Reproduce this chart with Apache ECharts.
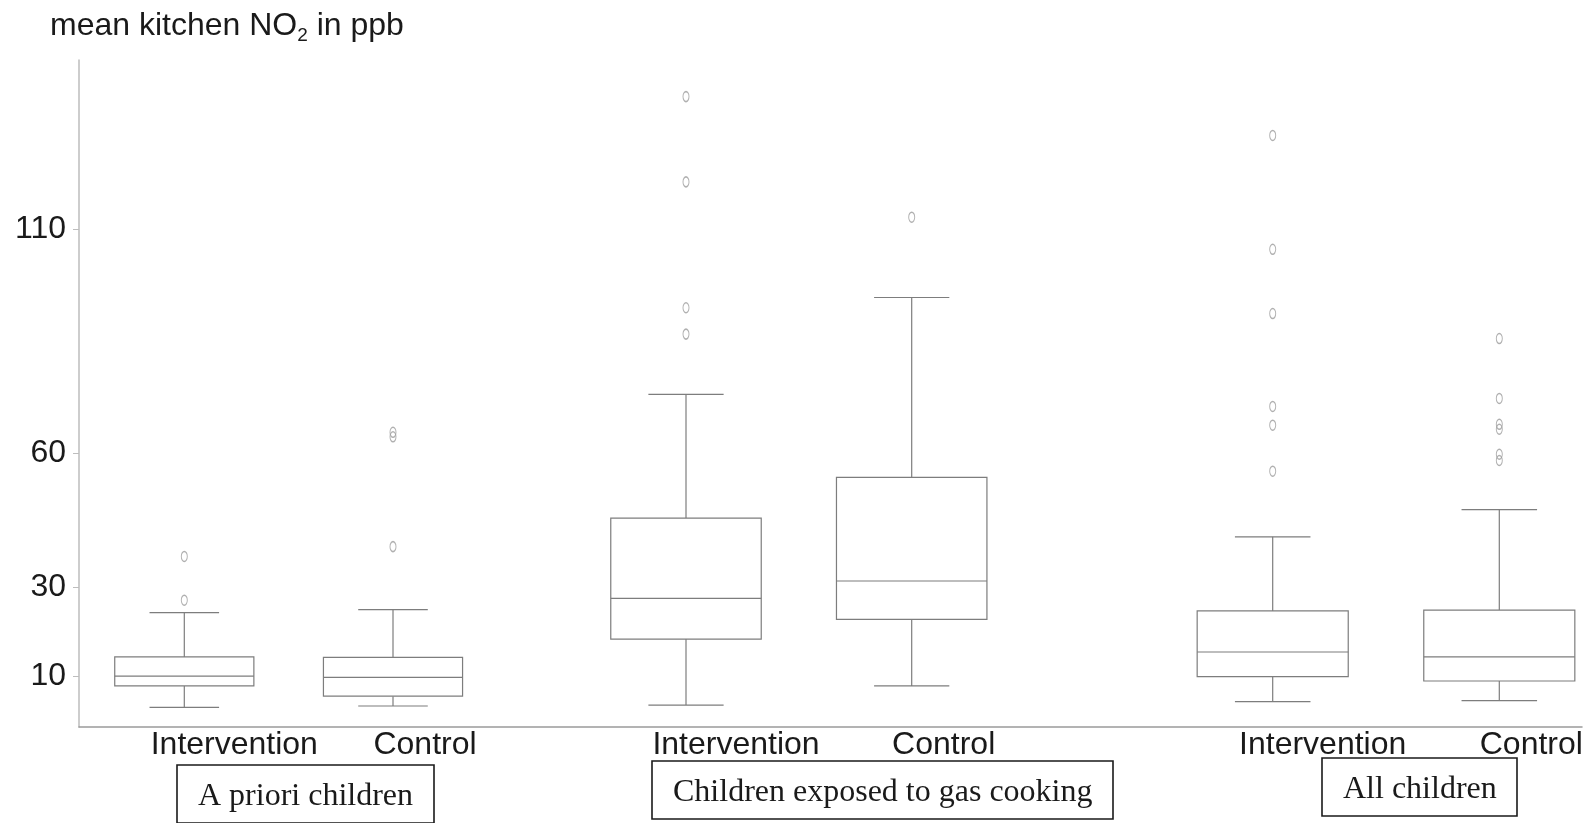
<!DOCTYPE html>
<html>
<head>
<meta charset="utf-8">
<title>mean kitchen NO2 in ppb</title>
<script src="https://cdn.jsdelivr.net/npm/echarts@6/dist/echarts.min.js"></script>
<style>
  html, body { margin: 0; padding: 0; background: #fff; }
  #chart { width: 1587px; height: 823px; }
</style>
</head>
<body>
<div id="chart"></div>
<script>
// Arms within each group
const categories = ['Intervention', 'Control'];
const groupNames = ['A priori children', 'Children exposed to gas cooking', 'All children'];
const yTicks = [10, 30, 60, 110];

// Box statistics per arm: [lower whisker, Q1, median, Q3, upper whisker]
const aprioriBoxes = [[3.0, 7.8, 10.0, 14.3, 24.2], [3.3, 5.5, 9.7, 14.2, 24.9]];
const gasCookingBoxes = [[3.5, 18.3, 27.4, 45.4, 73.1], [7.8, 22.7, 31.3, 54.5, 94.8]];
const allChildrenBoxes = [[4.3, 9.9, 15.4, 24.6, 41.2], [4.5, 8.9, 14.3, 24.8, 47.3]];

// Outlying households per arm
const aprioriOutliers = [[27.0, 36.8], [39.0, 63.6, 64.6]];
const gasCookingOutliers = [[86.6, 92.5, 120.7, 139.8], [112.8]];
const allChildrenOutliers = [[55.9, 66.2, 70.4, 91.2, 105.6, 131.1], [58.3, 59.7, 65.3, 66.4, 72.2, 85.6]];

const boxSets = [aprioriBoxes, gasCookingBoxes, allChildrenBoxes];
const outlierSets = [aprioriOutliers, gasCookingOutliers, allChildrenOutliers];

const Y_MIN = -1.4, Y_MAX = 148;
const PLOT_TOP = 60, PLOT_H = 667;
const sansFont = '"Liberation Sans", Arial, sans-serif';
const serifFont = '"Liberation Serif", "Times New Roman", serif';
const lineGray = '#7d7d7d';

// one sub-grid per group; its two categories sit on the grid's edges
const groupGrids = [
  { left: 184.3, width: 208.7 },
  { left: 686, width: 225.7 },
  { left: 1272.7, width: 226.6 }
];

function renderBox(params, api) {
  const i = api.value(0);
  const lo = api.coord([i, api.value(1)]);
  const q1 = api.coord([i, api.value(2)]);
  const md = api.coord([i, api.value(3)]);
  const q3 = api.coord([i, api.value(4)]);
  const hi = api.coord([i, api.value(5)]);
  const step = Math.abs(api.coord([1, 0])[0] - api.coord([0, 0])[0]);
  const bw = step * 2 / 3;
  const cw = step / 3;
  const cx = md[0];
  const st = { stroke: lineGray, lineWidth: 1.2, fill: null };
  return {
    type: 'group',
    children: [
      { type: 'line', shape: { x1: cx, y1: hi[1], x2: cx, y2: q3[1] }, style: st },
      { type: 'line', shape: { x1: cx, y1: q1[1], x2: cx, y2: lo[1] }, style: st },
      { type: 'line', shape: { x1: cx - cw / 2, y1: hi[1], x2: cx + cw / 2, y2: hi[1] }, style: st },
      { type: 'line', shape: { x1: cx - cw / 2, y1: lo[1], x2: cx + cw / 2, y2: lo[1] }, style: st },
      { type: 'rect', shape: { x: cx - bw / 2, y: q3[1], width: bw, height: q1[1] - q3[1] },
        style: { stroke: lineGray, lineWidth: 1.2, fill: '#fff' } },
      { type: 'line', shape: { x1: cx - bw / 2, y1: md[1], x2: cx + bw / 2, y2: md[1] }, style: st }
    ]
  };
}

const grids = [{ left: 79, top: PLOT_TOP, width: 1503, height: PLOT_H }];
const xAxes = [{
  gridIndex: 0, type: 'value', min: 0, max: 1,
  axisLine: { show: true, onZero: false, lineStyle: { color: '#9a9a9a', width: 1.5 } },
  axisTick: { show: false }, axisLabel: { show: false }, splitLine: { show: false }
}];
const yAxes = [{
  gridIndex: 0, type: 'value', min: Y_MIN, max: Y_MAX,
  axisLine: { show: true, onZero: false, lineStyle: { color: '#bdbdbd', width: 1.5 } },
  axisTick: { show: true, length: 6, customValues: yTicks, lineStyle: { color: '#bdbdbd' } },
  axisLabel: { customValues: yTicks, fontSize: 32, fontFamily: sansFont, color: '#1a1a1a', margin: 13 },
  splitLine: { show: false }
}];
const series = [];

groupGrids.forEach((g, k) => {
  const gi = k + 1;
  grids.push({ left: g.left, width: g.width, top: PLOT_TOP, height: PLOT_H });
  xAxes.push({
    gridIndex: gi, type: 'category', data: categories, boundaryGap: false,
    axisLine: { show: false, onZero: false }, axisTick: { show: false },
    axisLabel: {
      interval: 0, margin: 2, color: '#1a1a1a', hideOverlap: false,
      formatter: v => (v === 'Intervention' ? '{a|' + v + '}' : '{b|' + v + '}'),
      rich: {
        a: { fontSize: 32, fontFamily: sansFont, color: '#1a1a1a', padding: [0, 0, 0, 100] },
        b: { fontSize: 32, fontFamily: sansFont, color: '#1a1a1a', padding: [0, 0, 0, 64] }
      }
    },
    splitLine: { show: false }
  });
  yAxes.push({ gridIndex: gi, type: 'value', min: Y_MIN, max: Y_MAX, show: false });

  series.push({
    type: 'custom', name: groupNames[k], xAxisIndex: gi, yAxisIndex: gi,
    renderItem: renderBox, clip: false,
    encode: { x: 0, y: [1, 2, 3, 4, 5] },
    data: boxSets[k].map((b, i) => [i].concat(b)),
    silent: true
  });

  const pts = [];
  outlierSets[k].forEach((arr, i) => arr.forEach(v => pts.push([i, v])));
  series.push({
    type: 'scatter', xAxisIndex: gi, yAxisIndex: gi, clip: false,
    symbol: 'circle', symbolSize: [6, 10],
    itemStyle: { color: 'rgba(255,255,255,0)', borderColor: '#9c9c9c', borderWidth: 1.2 },
    data: pts, silent: true
  });
});

// group captions under the axis
const captionBoxes = [
  { left: 177, top: 765 },
  { left: 652, top: 761 },
  { left: 1322, top: 758 }
];
const titles = [{
  text: '{t|mean kitchen NO}{s|2}{t| in ppb}',
  left: 45, top: 2,
  textStyle: {
    fontWeight: 'normal',
    rich: {
      t: { fontSize: 32, fontFamily: sansFont, fontWeight: 'normal', color: '#1a1a1a', lineHeight: 38 },
      s: { fontSize: 19, fontFamily: sansFont, fontWeight: 'normal', color: '#1a1a1a', lineHeight: 26, verticalAlign: 'bottom' }
    }
  }
}];
groupNames.forEach((name, k) => {
  titles.push({
    text: name,
    left: captionBoxes[k].left, top: captionBoxes[k].top,
    padding: [15, 21, 9, 21],
    borderColor: '#1a1a1a', borderWidth: 1.6,
    textStyle: { fontFamily: serifFont, fontSize: 32, fontWeight: 'normal', color: '#1a1a1a', lineHeight: 34 }
  });
});

const chart = echarts.init(document.getElementById('chart'), null, { renderer: 'canvas' });
chart.setOption({
  backgroundColor: '#fff',
  animation: false,
  title: titles,
  grid: grids,
  xAxis: xAxes,
  yAxis: yAxes,
  series: series
});
</script>
</body>
</html>
